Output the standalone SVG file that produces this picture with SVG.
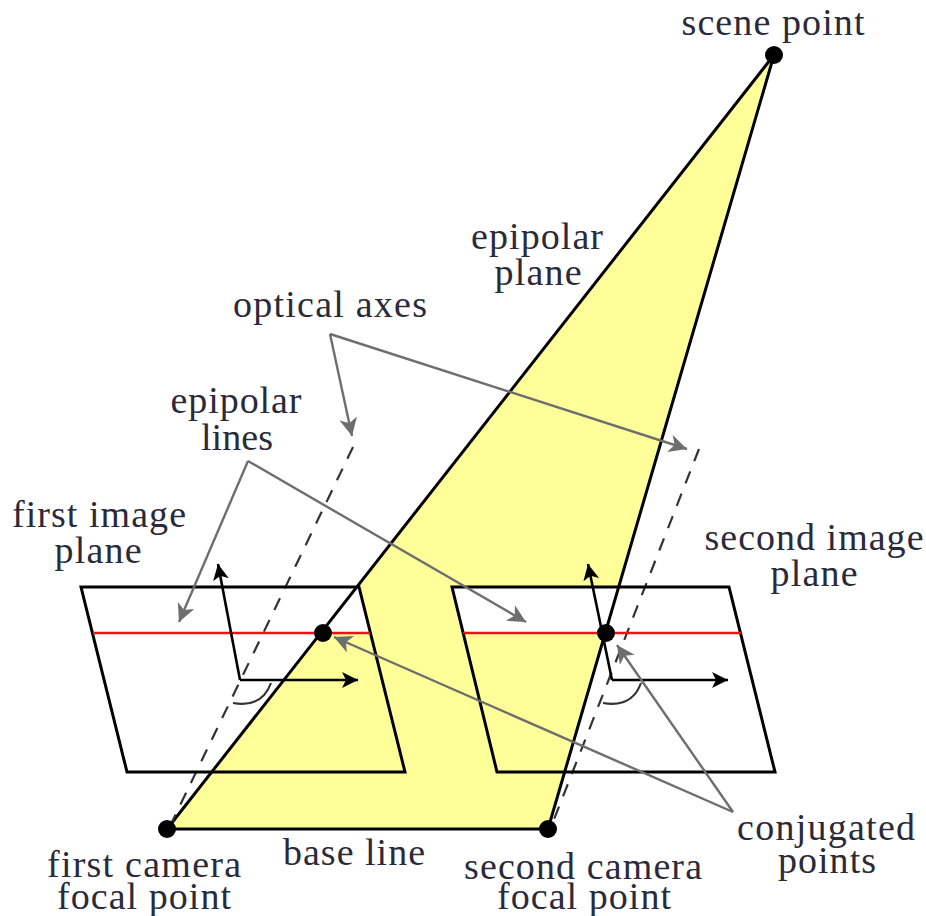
<svg xmlns="http://www.w3.org/2000/svg" width="926" height="916" viewBox="0 0 926 916">
<style>
text{font-family:"Liberation Serif","Times New Roman",serif;font-size:38px;fill:#2a2a3a;text-anchor:middle}
.edge{fill:none;stroke:#000;stroke-width:3;stroke-linejoin:miter}
.red{stroke:#f01010;stroke-width:2.4;fill:none}
.axis{stroke:#333;stroke-width:2.2;stroke-dasharray:13 11;fill:none}
.call{stroke:#6e6e6e;stroke-width:2.4;fill:none}
.vec{stroke:#000;stroke-width:2.6;fill:none}
.arc{stroke:#333;stroke-width:2.2;fill:none}
.dot{fill:#000}
</style>
<defs>
<marker id="ag" markerUnits="userSpaceOnUse" markerWidth="22" markerHeight="20" refX="18" refY="9" orient="auto"><path d="M0 0L18 9L0 18L5 9Z" fill="#6e6e6e"/></marker>
<marker id="ak" markerUnits="userSpaceOnUse" markerWidth="20" markerHeight="18" refX="16" refY="8" orient="auto"><path d="M0 0L16 8L0 16L4 8Z" fill="#000"/></marker>
</defs>
<rect width="926" height="916" fill="#fff"/>
<g id="epipolar-plane">
<polygon points="167,829 774,55 548,829" fill="#ffff99"/>
<polygon points="358,587 370,633 322,633" fill="#fff"/>
<polygon points="452,587 619,587 606,633 463,633" fill="#fff"/>
<path class="edge" d="M167 829L774 55L548 829Z"/>
</g>
<g id="optical-axes">
<path class="axis" d="M353 447L172 822"/>
<path class="axis" d="M699 449L553 822"/>
</g>
<g id="first-image-plane">
<polygon class="edge" points="81,587 359,587 405,772 127,772"/>
<path class="red" d="M93 633H370"/>
</g>
<g id="second-image-plane">
<polygon class="edge" points="452,587 729,587 775,772 497,772"/>
<path class="red" d="M463 633H741"/>
</g>
<g id="connectors">
<path class="vec" d="M240 680L218 564" marker-end="url(#ak)"/>
<path class="vec" d="M240 680H358" marker-end="url(#ak)"/>
<path class="vec" d="M612 680L588 564" marker-end="url(#ak)"/>
<path class="vec" d="M612 680H728" marker-end="url(#ak)"/>
<path class="arc" d="M271 683Q262 708 233 703"/>
<path class="arc" d="M641 683Q632 708 603 703"/>
<path class="call" d="M330 334L352 436" marker-end="url(#ag)"/>
<path class="call" d="M330 334L687 449" marker-end="url(#ag)"/>
<path class="call" d="M248 461L179 622" marker-end="url(#ag)"/>
<path class="call" d="M248 461L526 622" marker-end="url(#ag)"/>
<path class="call" d="M733 812L334 637" marker-end="url(#ag)"/>
<path class="call" d="M733 812L617 645" marker-end="url(#ag)"/>
</g>
<g id="scene-point"><circle class="dot" cx="774" cy="55" r="9"/><text x="773" y="35" textLength="183">scene point</text></g>
<g id="first-focal-point"><circle class="dot" cx="167" cy="829" r="9"/><text x="144" y="877" textLength="194">first camera</text><text x="144" y="909" textLength="174">focal point</text></g>
<g id="second-focal-point"><circle class="dot" cx="548" cy="829" r="9"/><text x="583" y="879" textLength="238">second camera</text><text x="584" y="909" textLength="174">focal point</text></g>
<g id="conjugated-points"><circle class="dot" cx="323" cy="633" r="9"/><circle class="dot" cx="606" cy="633" r="9"/><text x="826" y="840" textLength="178">conjugated</text><text x="827" y="873" textLength="98">points</text></g>
<g id="label-epipolar-plane"><text x="537" y="249" textLength="132">epipolar</text><text x="538" y="285" textLength="87">plane</text></g>
<g id="label-optical-axes"><text x="330" y="317" textLength="194">optical axes</text></g>
<g id="label-epipolar-lines"><text x="236" y="413" textLength="131">epipolar</text><text x="237" y="450" textLength="72">lines</text></g>
<g id="label-first-image-plane"><text x="99" y="527" textLength="174">first image</text><text x="98" y="563" textLength="87">plane</text></g>
<g id="label-second-image-plane"><text x="814" y="550" textLength="219">second image</text><text x="814" y="586" textLength="87">plane</text></g>
<g id="label-base-line"><text x="354" y="865" textLength="142">base line</text></g>
</svg>
